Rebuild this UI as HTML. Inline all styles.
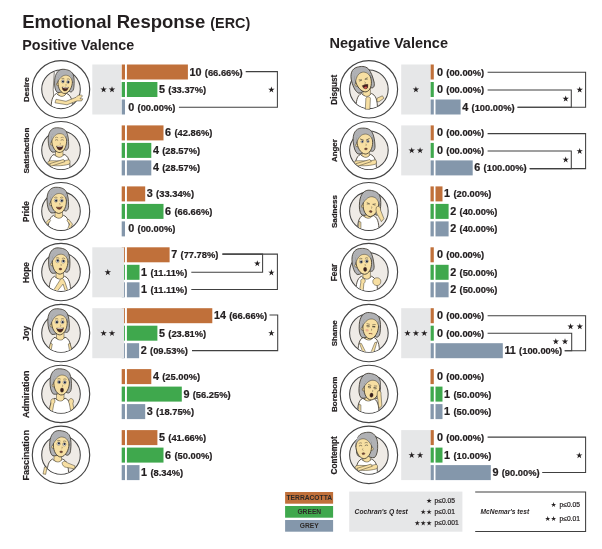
<!DOCTYPE html><html><head><meta charset="utf-8"><style>html,body{margin:0;padding:0;background:#fff}svg{display:block;filter:blur(0.3px)}svg text{font-family:"Liberation Sans",sans-serif}.b{stroke:#231f20;stroke-width:0.22px}</style></head><body><svg width="602" height="549" viewBox="0 0 602 549" font-family="Liberation Sans, sans-serif"><rect width="602" height="549" fill="#fff"/><text x="22.2" y="28.0" font-size="18.5" font-weight="bold" fill="#231f20">Emotional Response <tspan font-size="14.4">(ERC)</tspan></text><text x="22.2" y="50.1" font-size="14.3" font-weight="bold" fill="#231f20">Positive Valence</text><text x="329.5" y="47.8" font-size="14.5" font-weight="bold" fill="#231f20">Negative Valence</text><circle cx="61.00" cy="89.30" r="28.7" fill="#fff" stroke="#454545" stroke-width="1.15"/><circle cx="61.00" cy="89.30" r="19.3" fill="#efebe6" stroke="#454545" stroke-width="1.05"/><clipPath id="c1"><circle cx="0" cy="0" r="18.9"/></clipPath><g transform="translate(61.00,89.30)"><g clip-path="url(#c1)"><path d="M-6.6,-18.5 Q-9.2,0 -6.2,19 L0,19 L0,-18.5 Z" fill="#fff" stroke="#3d382e" stroke-width="0.6" stroke-linejoin="round" /><g transform="translate(3,0)"><path d="M-12.5,22 C-13.5,12 -11.5,6 -7.5,4.2 C-5,7.2 0,7.2 2.5,4.2 C6.5,5.6 9,10 8.5,22 Z" fill="#ffffff" stroke="#3d382e" stroke-width="0.85" stroke-linejoin="round" /><path d="M-6,-2 L-6,5 C-4,7.8 0,7.8 1.5,5 L1.5,-2 Z" fill="#f7dfa2" stroke="#3d382e" stroke-width="0.5" stroke-linejoin="round" /></g></g><g transform="translate(3,0)"><path d="M-8,10 L2,12 L12,8 C14,5.5 17,5 18.5,6.5 L16,9.5 L18.8,9.5 L17.6,11.6 L13,11.6 L3,15.5 L-9,13.5 Z" fill="#f7dfa2" stroke="#3d382e" stroke-width="0.5" stroke-linejoin="round" /></g><g transform="translate(4.0,-5.4) rotate(6) scale(0.874)"><path d="M-3,-16.5 C-9,-16.5 -12.5,-11 -12.2,-3 C-12,3 -11,8 -8,10.5 C-5,11 -2,9.5 -1,8 L6,8 C8,9.5 10.5,7.5 10.5,3 C10.5,-3 10,-8 8,-12 C5.5,-16 1,-16.5 -3,-16.5 Z" fill="#b0b1b4" stroke="#3d382e" stroke-width="0.85" stroke-linejoin="round" /><g transform="translate(0,0)"><circle cx="-8.1" cy="1.2" r="1.7" fill="#f7dfa2" stroke="#3d382e" stroke-width="0.5"/><path d="M-8.2,-3 C-8.4,3.5 -5.2,9.8 -0.3,11 C4.4,11.2 7.9,5.5 8.2,-1 C8.4,-5 7.2,-9 5,-11 L-5,-11 C-7.4,-9 -8.2,-5 -8.2,-3 Z" fill="#f7dfa2" stroke="#3d382e" stroke-width="0.85" stroke-linejoin="round" /><path d="M-8.8,-1 C-9.6,-9 -5,-14.5 0,-14.5 C5,-14.5 9,-9 8.6,-2 C7.4,-6.6 5,-9.8 1,-10 C-3,-10.2 -6,-7.5 -8.8,-1 Z" fill="#b0b1b4"/><path d="M-8.8,-1 C-6,-7.5 -3,-10.2 1,-10 C5,-9.8 7.4,-6.6 8.6,-2" fill="none" stroke="#3d382e" stroke-width="0.5"/><ellipse cx="-2.8" cy="-2.6" rx="1.7" ry="1.8" fill="#fff" stroke="#3d382e" stroke-width="0.4"/><circle cx="-2.5999999999999996" cy="-2.4" r="1.15" fill="#1f2638"/><ellipse cx="3.2" cy="-2.6" rx="1.7" ry="1.8" fill="#fff" stroke="#3d382e" stroke-width="0.4"/><circle cx="3.4000000000000004" cy="-2.4" r="1.15" fill="#1f2638"/><path d="M-4.6,-5.6 Q-2.8,-6.8 -1.2,-5.6 M1.6,-5.6 Q3.4,-6.8 5,-5.6" fill="none" stroke="#3d382e" stroke-width="0.5"/><path d="M1,0.2 q1.2,1.6 -0.2,2.2" fill="none" stroke="#3d382e" stroke-width="0.4"/><path d="M-3,3.8 Q0.6,4.8 4.4,3.4 Q3.6,8.2 0.6,8.2 Q-2.2,8 -3,3.8 Z" fill="#4a241c" stroke="#3d382e" stroke-width="0.45" stroke-linejoin="round" /><path d="M-2.2,4.2 Q0.7,5.1 3.7,3.9" stroke="#fff" stroke-width="0.7" fill="none"/></g></g></g><text class="b" transform="translate(29.3,89.7) rotate(-90)" text-anchor="middle" font-size="8.1" font-weight="bold" fill="#231f20">Desire</text><rect x="121.7" y="64.5" width="3.3" height="15" fill="#c0703a"/><rect x="126.9" y="64.5" width="61.0" height="15" fill="#c0703a"/><text class="b" x="189.5" y="75.5" font-size="10.8" font-weight="bold" fill="#231f20">10<tspan font-size="9.35" dx="3.3">(66.66%)</tspan></text><rect x="121.7" y="82.0" width="3.3" height="15" fill="#3fa84d"/><rect x="126.9" y="82.0" width="30.5" height="15" fill="#3fa84d"/><text class="b" x="159.0" y="93.0" font-size="10.8" font-weight="bold" fill="#231f20">5<tspan font-size="9.35" dx="3.3">(33.37%)</tspan></text><rect x="121.7" y="99.5" width="3.3" height="15" fill="#8497ab"/><text class="b" x="128.2" y="110.5" font-size="10.8" font-weight="bold" fill="#231f20">0<tspan font-size="9.35" dx="3.3">(00.00%)</tspan></text><path d="M245.7,71.6 H277.4 V107.3 H178.9" fill="none" stroke="#404040" stroke-width="1.05" stroke-linejoin="miter"/><polygon points="271.40,86.45 272.15,88.77 274.59,88.76 272.61,90.19 273.37,92.51 271.40,91.07 269.43,92.51 270.19,90.19 268.21,88.76 270.65,88.77" fill="#231f20"/><circle cx="61.00" cy="150.23" r="28.7" fill="#fff" stroke="#454545" stroke-width="1.15"/><circle cx="61.00" cy="150.23" r="19.3" fill="#efebe6" stroke="#454545" stroke-width="1.05"/><clipPath id="c2"><circle cx="0" cy="0" r="18.9"/></clipPath><g transform="translate(61.00,150.23)"><g clip-path="url(#c2)"><g transform="translate(0.5,0)"><path d="M-12.5,22 C-13.5,12 -11.5,6 -7.5,4.2 C-5,7.2 0,7.2 2.5,4.2 C6.5,5.6 9,10 8.5,22 Z" fill="#ffffff" stroke="#3d382e" stroke-width="0.85" stroke-linejoin="round" /><path d="M-6,-2 L-6,5 C-4,7.8 0,7.8 1.5,5 L1.5,-2 Z" fill="#f7dfa2" stroke="#3d382e" stroke-width="0.5" stroke-linejoin="round" /></g><g transform="translate(0.5,0)"><path d="M-13,11 C-9,9.5 -2,12 7.5,9.5 C9,10.5 9,13 7.5,14 C0,16 -8,16 -12.5,14.5 C-14,13.5 -14,12 -13,11 Z" fill="#f7dfa2" stroke="#3d382e" stroke-width="0.5" stroke-linejoin="round" /><path d="M-12,13.5 L2,9.2 L3.4,11.4 L-10.5,16 Z" fill="#f7dfa2" stroke="#3d382e" stroke-width="0.5" stroke-linejoin="round" /></g></g><g transform="translate(-1.8,-7.6) rotate(0) scale(0.9025)"><path d="M-3,-16.5 C-9,-16.5 -12.5,-11 -12.2,-3 C-12,3 -11,8 -8,10.5 C-5,11 -2,9.5 -1,8 L6,8 C8,9.5 10.5,7.5 10.5,3 C10.5,-3 10,-8 8,-12 C5.5,-16 1,-16.5 -3,-16.5 Z" fill="#b0b1b4" stroke="#3d382e" stroke-width="0.85" stroke-linejoin="round" /><g transform="translate(0,0)"><circle cx="-8.1" cy="1.2" r="1.7" fill="#f7dfa2" stroke="#3d382e" stroke-width="0.5"/><path d="M-8.2,-3 C-8.4,3.5 -5.2,9.8 -0.3,11 C4.4,11.2 7.9,5.5 8.2,-1 C8.4,-5 7.2,-9 5,-11 L-5,-11 C-7.4,-9 -8.2,-5 -8.2,-3 Z" fill="#f7dfa2" stroke="#3d382e" stroke-width="0.85" stroke-linejoin="round" /><path d="M-8.8,-1 C-9.6,-9 -5,-14.5 0,-14.5 C5,-14.5 9,-9 8.6,-2 C7.4,-6.6 5,-9.8 1,-10 C-3,-10.2 -6,-7.5 -8.8,-1 Z" fill="#b0b1b4"/><path d="M-8.8,-1 C-6,-7.5 -3,-10.2 1,-10 C5,-9.8 7.4,-6.6 8.6,-2" fill="none" stroke="#3d382e" stroke-width="0.5"/><path d="M-4.6,-2.6 Q-2.8,-4 -1.2,-2.6 M1.6,-2.6 Q3.4,-4 5,-2.6" fill="none" stroke="#3d382e" stroke-width="0.6"/><path d="M-4.6,-5.4 Q-2.8,-6.6 -1.2,-5.4 M1.6,-5.4 Q3.4,-6.6 5,-5.4" fill="none" stroke="#3d382e" stroke-width="0.45"/><path d="M1,0.2 q1.2,1.6 -0.2,2.2" fill="none" stroke="#3d382e" stroke-width="0.4"/><path d="M-3,3.8 Q0.6,4.8 4.4,3.4 Q3.6,8.2 0.6,8.2 Q-2.2,8 -3,3.8 Z" fill="#4a241c" stroke="#3d382e" stroke-width="0.45" stroke-linejoin="round" /><path d="M-2.2,4.2 Q0.7,5.1 3.7,3.9" stroke="#fff" stroke-width="0.7" fill="none"/></g></g></g><text class="b" transform="translate(29.3,150.6) rotate(-90)" text-anchor="middle" font-size="8.1" font-weight="bold" fill="#231f20">Satisfaction</text><rect x="121.7" y="125.4" width="3.3" height="15" fill="#c0703a"/><rect x="126.9" y="125.4" width="36.6" height="15" fill="#c0703a"/><text class="b" x="165.1" y="136.4" font-size="10.8" font-weight="bold" fill="#231f20">6<tspan font-size="9.35" dx="3.3">(42.86%)</tspan></text><rect x="121.7" y="142.9" width="3.3" height="15" fill="#3fa84d"/><rect x="126.9" y="142.9" width="24.4" height="15" fill="#3fa84d"/><text class="b" x="152.9" y="153.9" font-size="10.8" font-weight="bold" fill="#231f20">4<tspan font-size="9.35" dx="3.3">(28.57%)</tspan></text><rect x="121.7" y="160.4" width="3.3" height="15" fill="#8497ab"/><rect x="126.9" y="160.4" width="24.4" height="15" fill="#8497ab"/><text class="b" x="152.9" y="171.4" font-size="10.8" font-weight="bold" fill="#231f20">4<tspan font-size="9.35" dx="3.3">(28.57%)</tspan></text><circle cx="61.00" cy="211.16" r="28.7" fill="#fff" stroke="#454545" stroke-width="1.15"/><circle cx="61.00" cy="211.16" r="19.3" fill="#efebe6" stroke="#454545" stroke-width="1.05"/><clipPath id="c3"><circle cx="0" cy="0" r="18.9"/></clipPath><g transform="translate(61.00,211.16)"><g clip-path="url(#c3)"><g transform="translate(0,0)"><path d="M-12.5,22 C-13.5,12 -11.5,6 -7.5,4.2 C-5,7.2 0,7.2 2.5,4.2 C6.5,5.6 9,10 8.5,22 Z" fill="#ffffff" stroke="#3d382e" stroke-width="0.85" stroke-linejoin="round" /><path d="M-6,-2 L-6,5 C-4,7.8 0,7.8 1.5,5 L1.5,-2 Z" fill="#f7dfa2" stroke="#3d382e" stroke-width="0.5" stroke-linejoin="round" /></g><g transform="translate(0,0)"><path d="M-12,8 L-16.5,13 L-13,19 L-11,18 L-13.6,13 L-10.4,9.5 Z" fill="#f7dfa2" stroke="#3d382e" stroke-width="0.5" stroke-linejoin="round" /><path d="M7.5,8 L11.5,13 L8.5,19 L6.5,18 L8.6,13 L6,9.5 Z" fill="#f7dfa2" stroke="#3d382e" stroke-width="0.5" stroke-linejoin="round" /></g></g><g transform="translate(-2.4,-8.2) rotate(0) scale(0.95)"><path d="M-3,-16.5 C-9,-16.5 -12.5,-11 -12.2,-3 C-12,3 -11,8 -8,10.5 C-5,11 -2,9.5 -1,8 L6,8 C8,9.5 10.5,7.5 10.5,3 C10.5,-3 10,-8 8,-12 C5.5,-16 1,-16.5 -3,-16.5 Z" fill="#b0b1b4" stroke="#3d382e" stroke-width="0.85" stroke-linejoin="round" /><g transform="translate(0,0)"><circle cx="-8.1" cy="1.2" r="1.7" fill="#f7dfa2" stroke="#3d382e" stroke-width="0.5"/><path d="M-8.2,-3 C-8.4,3.5 -5.2,9.8 -0.3,11 C4.4,11.2 7.9,5.5 8.2,-1 C8.4,-5 7.2,-9 5,-11 L-5,-11 C-7.4,-9 -8.2,-5 -8.2,-3 Z" fill="#f7dfa2" stroke="#3d382e" stroke-width="0.85" stroke-linejoin="round" /><path d="M-8.8,-1 C-9.6,-9 -5,-14.5 0,-14.5 C5,-14.5 9,-9 8.6,-2 C7.4,-6.6 5,-9.8 1,-10 C-3,-10.2 -6,-7.5 -8.8,-1 Z" fill="#b0b1b4"/><path d="M-8.8,-1 C-6,-7.5 -3,-10.2 1,-10 C5,-9.8 7.4,-6.6 8.6,-2" fill="none" stroke="#3d382e" stroke-width="0.5"/><ellipse cx="-2.8" cy="-2.6" rx="1.7" ry="1.8" fill="#fff" stroke="#3d382e" stroke-width="0.4"/><circle cx="-2.5999999999999996" cy="-2.4" r="1.15" fill="#1f2638"/><ellipse cx="3.2" cy="-2.6" rx="1.7" ry="1.8" fill="#fff" stroke="#3d382e" stroke-width="0.4"/><circle cx="3.4000000000000004" cy="-2.4" r="1.15" fill="#1f2638"/><path d="M-4.6,-5.6 Q-2.8,-6.8 -1.2,-5.6 M1.6,-5.6 Q3.4,-6.8 5,-5.6" fill="none" stroke="#3d382e" stroke-width="0.5"/><path d="M1,0.2 q1.2,1.6 -0.2,2.2" fill="none" stroke="#3d382e" stroke-width="0.4"/><path d="M-2.6,4.2 Q0.6,5 4,3.6 Q3,6.8 0.6,6.8 Q-1.8,6.6 -2.6,4.2 Z" fill="#7a3d2c" stroke="#3d382e" stroke-width="0.4" stroke-linejoin="round" /></g></g></g><text class="b" transform="translate(29.3,211.6) rotate(-90)" text-anchor="middle" font-size="8.3" font-weight="bold" fill="#231f20">Pride</text><rect x="121.7" y="186.4" width="3.3" height="15" fill="#c0703a"/><rect x="126.9" y="186.4" width="18.3" height="15" fill="#c0703a"/><text class="b" x="146.8" y="197.4" font-size="10.8" font-weight="bold" fill="#231f20">3<tspan font-size="9.35" dx="3.3">(33.34%)</tspan></text><rect x="121.7" y="203.9" width="3.3" height="15" fill="#3fa84d"/><rect x="126.9" y="203.9" width="36.6" height="15" fill="#3fa84d"/><text class="b" x="165.1" y="214.9" font-size="10.8" font-weight="bold" fill="#231f20">6<tspan font-size="9.35" dx="3.3">(66.66%)</tspan></text><rect x="121.7" y="221.4" width="3.3" height="15" fill="#8497ab"/><text class="b" x="128.2" y="232.4" font-size="10.8" font-weight="bold" fill="#231f20">0<tspan font-size="9.35" dx="3.3">(00.00%)</tspan></text><circle cx="61.00" cy="272.09" r="28.7" fill="#fff" stroke="#454545" stroke-width="1.15"/><circle cx="61.00" cy="272.09" r="19.3" fill="#efebe6" stroke="#454545" stroke-width="1.05"/><clipPath id="c4"><circle cx="0" cy="0" r="18.9"/></clipPath><g transform="translate(61.00,272.09)"><g clip-path="url(#c4)"><g transform="translate(1,0)"><path d="M-12.5,22 C-13.5,12 -11.5,6 -7.5,4.2 C-5,7.2 0,7.2 2.5,4.2 C6.5,5.6 9,10 8.5,22 Z" fill="#ffffff" stroke="#3d382e" stroke-width="0.85" stroke-linejoin="round" /><path d="M-6,-2 L-6,5 C-4,7.8 0,7.8 1.5,5 L1.5,-2 Z" fill="#f7dfa2" stroke="#3d382e" stroke-width="0.5" stroke-linejoin="round" /></g><g transform="translate(1,0)"><path d="M-9,19 L-2,8 C-1,6 1.5,6 1.8,8 L3,10 L6,19 L3.5,19.5 L1,12 L-5.5,20 Z" fill="#f7dfa2" stroke="#3d382e" stroke-width="0.5" stroke-linejoin="round" /></g></g><g transform="translate(-1.0,-8.4) rotate(4) scale(0.95)"><path d="M-3,-16.5 C-9,-16.5 -12.5,-11 -12.2,-3 C-12,3 -11,8 -8,10.5 C-5,11 -2,9.5 -1,8 L6,8 C8,9.5 10.5,7.5 10.5,3 C10.5,-3 10,-8 8,-12 C5.5,-16 1,-16.5 -3,-16.5 Z" fill="#b0b1b4" stroke="#3d382e" stroke-width="0.85" stroke-linejoin="round" /><g transform="translate(0,0)"><circle cx="-8.1" cy="1.2" r="1.7" fill="#f7dfa2" stroke="#3d382e" stroke-width="0.5"/><path d="M-8.2,-3 C-8.4,3.5 -5.2,9.8 -0.3,11 C4.4,11.2 7.9,5.5 8.2,-1 C8.4,-5 7.2,-9 5,-11 L-5,-11 C-7.4,-9 -8.2,-5 -8.2,-3 Z" fill="#f7dfa2" stroke="#3d382e" stroke-width="0.85" stroke-linejoin="round" /><path d="M-8.8,-1 C-9.6,-9 -5,-14.5 0,-14.5 C5,-14.5 9,-9 8.6,-2 C7.4,-6.6 5,-9.8 1,-10 C-3,-10.2 -6,-7.5 -8.8,-1 Z" fill="#b0b1b4"/><path d="M-8.8,-1 C-6,-7.5 -3,-10.2 1,-10 C5,-9.8 7.4,-6.6 8.6,-2" fill="none" stroke="#3d382e" stroke-width="0.5"/><ellipse cx="-2.8" cy="-2.6" rx="1.7" ry="1.8" fill="#fff" stroke="#3d382e" stroke-width="0.4"/><circle cx="-2.5999999999999996" cy="-3.0" r="1.15" fill="#1f2638"/><ellipse cx="3.2" cy="-2.6" rx="1.7" ry="1.8" fill="#fff" stroke="#3d382e" stroke-width="0.4"/><circle cx="3.4000000000000004" cy="-3.0" r="1.15" fill="#1f2638"/><path d="M-4.6,-5.6 Q-2.8,-6.8 -1.2,-5.6 M1.6,-5.6 Q3.4,-6.8 5,-5.6" fill="none" stroke="#3d382e" stroke-width="0.5"/><path d="M1,0.2 q1.2,1.6 -0.2,2.2" fill="none" stroke="#3d382e" stroke-width="0.4"/><ellipse cx="0.8" cy="5.6" rx="1.5" ry="1.0" fill="#7a3d2c" stroke="#3d382e" stroke-width="0.4"/></g></g></g><text class="b" transform="translate(29.3,272.5) rotate(-90)" text-anchor="middle" font-size="8.3" font-weight="bold" fill="#231f20">Hope</text><rect x="121.7" y="247.3" width="3.3" height="15" fill="#c0703a"/><rect x="126.9" y="247.3" width="42.7" height="15" fill="#c0703a"/><text class="b" x="171.2" y="258.3" font-size="10.8" font-weight="bold" fill="#231f20">7<tspan font-size="9.35" dx="3.3">(77.78%)</tspan></text><rect x="121.7" y="264.8" width="3.3" height="15" fill="#3fa84d"/><rect x="126.9" y="264.8" width="12.6" height="15" fill="#3fa84d"/><text class="b" x="141.1" y="275.8" font-size="10.8" font-weight="bold" fill="#231f20">1<tspan font-size="9.35" dx="3.3">(11.11%)</tspan></text><rect x="121.7" y="282.3" width="3.3" height="15" fill="#8497ab"/><rect x="126.9" y="282.3" width="12.6" height="15" fill="#8497ab"/><text class="b" x="141.1" y="293.3" font-size="10.8" font-weight="bold" fill="#231f20">1<tspan font-size="9.35" dx="3.3">(11.11%)</tspan></text><path d="M222.4,254.1 H262.6 V272.3 H191.3" fill="none" stroke="#404040" stroke-width="1.05" stroke-linejoin="miter"/><polygon points="257.30,260.24 258.05,262.56 260.49,262.55 258.51,263.98 259.27,266.30 257.30,264.86 255.33,266.30 256.09,263.98 254.11,262.55 256.55,262.56" fill="#231f20"/><path d="M222.4,254.1 H277.4 V289.5 H191.3" fill="none" stroke="#404040" stroke-width="1.05" stroke-linejoin="miter"/><polygon points="271.40,269.34 272.15,271.66 274.59,271.65 272.61,273.08 273.37,275.40 271.40,273.96 269.43,275.40 270.19,273.08 268.21,271.65 270.65,271.66" fill="#231f20"/><circle cx="61.00" cy="333.02" r="28.7" fill="#fff" stroke="#454545" stroke-width="1.15"/><circle cx="61.00" cy="333.02" r="19.3" fill="#efebe6" stroke="#454545" stroke-width="1.05"/><clipPath id="c5"><circle cx="0" cy="0" r="18.9"/></clipPath><g transform="translate(61.00,333.02)"><g clip-path="url(#c5)"><g transform="translate(1.5,0)"><path d="M-12.5,22 C-13.5,12 -11.5,6 -7.5,4.2 C-5,7.2 0,7.2 2.5,4.2 C6.5,5.6 9,10 8.5,22 Z" fill="#ffffff" stroke="#3d382e" stroke-width="0.85" stroke-linejoin="round" /><path d="M-6,-2 L-6,5 C-4,7.8 0,7.8 1.5,5 L1.5,-2 Z" fill="#f7dfa2" stroke="#3d382e" stroke-width="0.5" stroke-linejoin="round" /></g><g transform="translate(1.5,0)"><path d="M-12,10 L-14.5,19 L-11.8,19.5 L-10.2,11 Z" fill="#f7dfa2" stroke="#3d382e" stroke-width="0.5" stroke-linejoin="round" /><path d="M7.4,10 L10,19 L7.4,19.5 L5.8,11 Z" fill="#f7dfa2" stroke="#3d382e" stroke-width="0.5" stroke-linejoin="round" /></g></g><g transform="translate(-1.6,-8.6) rotate(0) scale(0.95)"><path d="M-3,-16.5 C-9,-16.5 -12.5,-11 -12.2,-3 C-12,3 -11,8 -8,10.5 C-5,11 -2,9.5 -1,8 L6,8 C8,9.5 10.5,7.5 10.5,3 C10.5,-3 10,-8 8,-12 C5.5,-16 1,-16.5 -3,-16.5 Z" fill="#b0b1b4" stroke="#3d382e" stroke-width="0.85" stroke-linejoin="round" /><g transform="translate(0,0)"><circle cx="-8.1" cy="1.2" r="1.7" fill="#f7dfa2" stroke="#3d382e" stroke-width="0.5"/><path d="M-8.2,-3 C-8.4,3.5 -5.2,9.8 -0.3,11 C4.4,11.2 7.9,5.5 8.2,-1 C8.4,-5 7.2,-9 5,-11 L-5,-11 C-7.4,-9 -8.2,-5 -8.2,-3 Z" fill="#f7dfa2" stroke="#3d382e" stroke-width="0.85" stroke-linejoin="round" /><path d="M-8.8,-1 C-9.6,-9 -5,-14.5 0,-14.5 C5,-14.5 9,-9 8.6,-2 C7.4,-6.6 5,-9.8 1,-10 C-3,-10.2 -6,-7.5 -8.8,-1 Z" fill="#b0b1b4"/><path d="M-8.8,-1 C-6,-7.5 -3,-10.2 1,-10 C5,-9.8 7.4,-6.6 8.6,-2" fill="none" stroke="#3d382e" stroke-width="0.5"/><ellipse cx="-2.8" cy="-2.6" rx="1.7" ry="1.8" fill="#fff" stroke="#3d382e" stroke-width="0.4"/><circle cx="-2.5999999999999996" cy="-2.4" r="1.15" fill="#1f2638"/><ellipse cx="3.2" cy="-2.6" rx="1.7" ry="1.8" fill="#fff" stroke="#3d382e" stroke-width="0.4"/><circle cx="3.4000000000000004" cy="-2.4" r="1.15" fill="#1f2638"/><path d="M-4.6,-5.6 Q-2.8,-6.8 -1.2,-5.6 M1.6,-5.6 Q3.4,-6.8 5,-5.6" fill="none" stroke="#3d382e" stroke-width="0.5"/><path d="M1,0.2 q1.2,1.6 -0.2,2.2" fill="none" stroke="#3d382e" stroke-width="0.4"/><path d="M-3,3.8 Q0.6,4.8 4.4,3.4 Q3.6,8.2 0.6,8.2 Q-2.2,8 -3,3.8 Z" fill="#4a241c" stroke="#3d382e" stroke-width="0.45" stroke-linejoin="round" /><path d="M-2.2,4.2 Q0.7,5.1 3.7,3.9" stroke="#fff" stroke-width="0.7" fill="none"/></g></g></g><text class="b" transform="translate(29.3,333.4) rotate(-90)" text-anchor="middle" font-size="8.8" font-weight="bold" fill="#231f20">Joy</text><rect x="121.7" y="308.2" width="3.3" height="15" fill="#c0703a"/><rect x="126.9" y="308.2" width="85.4" height="15" fill="#c0703a"/><text class="b" x="213.9" y="319.2" font-size="10.8" font-weight="bold" fill="#231f20">14<tspan font-size="9.35" dx="3.3">(66.66%)</tspan></text><rect x="121.7" y="325.7" width="3.3" height="15" fill="#3fa84d"/><rect x="126.9" y="325.7" width="30.5" height="15" fill="#3fa84d"/><text class="b" x="159.0" y="336.7" font-size="10.8" font-weight="bold" fill="#231f20">5<tspan font-size="9.35" dx="3.3">(23.81%)</tspan></text><rect x="121.7" y="343.2" width="3.3" height="15" fill="#8497ab"/><rect x="126.9" y="343.2" width="12.2" height="15" fill="#8497ab"/><text class="b" x="140.7" y="354.2" font-size="10.8" font-weight="bold" fill="#231f20">2<tspan font-size="9.35" dx="3.3">(09.53%)</tspan></text><path d="M269.5,315.0 H277.7 V350.6 H192.0" fill="none" stroke="#404040" stroke-width="1.05" stroke-linejoin="miter"/><polygon points="271.40,329.87 272.15,332.19 274.59,332.18 272.61,333.61 273.37,335.93 271.40,334.49 269.43,335.93 270.19,333.61 268.21,332.18 270.65,332.19" fill="#231f20"/><circle cx="61.00" cy="393.95" r="28.7" fill="#fff" stroke="#454545" stroke-width="1.15"/><circle cx="61.00" cy="393.95" r="19.3" fill="#efebe6" stroke="#454545" stroke-width="1.05"/><clipPath id="c6"><circle cx="0" cy="0" r="18.9"/></clipPath><g transform="translate(61.00,393.95)"><g clip-path="url(#c6)"><g transform="translate(1.5,0)"><path d="M-12.5,22 C-13.5,12 -11.5,6 -7.5,4.2 C-5,7.2 0,7.2 2.5,4.2 C6.5,5.6 9,10 8.5,22 Z" fill="#ffffff" stroke="#3d382e" stroke-width="0.85" stroke-linejoin="round" /><path d="M-6,-2 L-6,5 C-4,7.8 0,7.8 1.5,5 L1.5,-2 Z" fill="#f7dfa2" stroke="#3d382e" stroke-width="0.5" stroke-linejoin="round" /></g><g transform="translate(1.5,0)"><path d="M-14,19 L-11.5,9 C-12.5,6.5 -10.5,4 -8.5,5 C-7,6 -7.4,8.5 -8.6,9.6 L-10.4,19.5 Z" fill="#f7dfa2" stroke="#3d382e" stroke-width="0.5" stroke-linejoin="round" /><path d="M8.5,19 L6.8,9.6 C5.4,7.6 6.5,4.4 8.8,4.6 C11,5 11.6,7.6 10.4,9.4 L11.8,18.5 Z" fill="#f7dfa2" stroke="#3d382e" stroke-width="0.5" stroke-linejoin="round" /></g></g><g transform="translate(0.5,-9.4) rotate(3) scale(0.95)"><path d="M-3,-16.5 C-9,-16.5 -12.5,-11 -12.2,-3 C-12,3 -11,8 -8,10.5 C-5,11 -2,9.5 -1,8 L6,8 C8,9.5 10.5,7.5 10.5,3 C10.5,-3 10,-8 8,-12 C5.5,-16 1,-16.5 -3,-16.5 Z" fill="#b0b1b4" stroke="#3d382e" stroke-width="0.85" stroke-linejoin="round" /><g transform="translate(0,0)"><circle cx="-8.1" cy="1.2" r="1.7" fill="#f7dfa2" stroke="#3d382e" stroke-width="0.5"/><path d="M-8.2,-3 C-8.4,3.5 -5.2,9.8 -0.3,11 C4.4,11.2 7.9,5.5 8.2,-1 C8.4,-5 7.2,-9 5,-11 L-5,-11 C-7.4,-9 -8.2,-5 -8.2,-3 Z" fill="#f7dfa2" stroke="#3d382e" stroke-width="0.85" stroke-linejoin="round" /><path d="M-8.8,-1 C-9.6,-9 -5,-14.5 0,-14.5 C5,-14.5 9,-9 8.6,-2 C7.4,-6.6 5,-9.8 1,-10 C-3,-10.2 -6,-7.5 -8.8,-1 Z" fill="#b0b1b4"/><path d="M-8.8,-1 C-6,-7.5 -3,-10.2 1,-10 C5,-9.8 7.4,-6.6 8.6,-2" fill="none" stroke="#3d382e" stroke-width="0.5"/><ellipse cx="-2.8" cy="-2.6" rx="1.7" ry="1.8" fill="#fff" stroke="#3d382e" stroke-width="0.4"/><circle cx="-2.5999999999999996" cy="-2.4" r="1.15" fill="#1f2638"/><ellipse cx="3.2" cy="-2.6" rx="1.7" ry="1.8" fill="#fff" stroke="#3d382e" stroke-width="0.4"/><circle cx="3.4000000000000004" cy="-2.4" r="1.15" fill="#1f2638"/><path d="M-4.6,-5.6 Q-2.8,-6.8 -1.2,-5.6 M1.6,-5.6 Q3.4,-6.8 5,-5.6" fill="none" stroke="#3d382e" stroke-width="0.5"/><path d="M1,0.2 q1.2,1.6 -0.2,2.2" fill="none" stroke="#3d382e" stroke-width="0.4"/><ellipse cx="0.8" cy="5.8" rx="1.7" ry="2.2" fill="#3a1d1a" stroke="#3d382e" stroke-width="0.4"/></g></g></g><text class="b" transform="translate(29.3,394.3) rotate(-90)" text-anchor="middle" font-size="9.0" font-weight="bold" fill="#231f20">Admiration</text><rect x="121.7" y="369.1" width="3.3" height="15" fill="#c0703a"/><rect x="126.9" y="369.1" width="24.4" height="15" fill="#c0703a"/><text class="b" x="152.9" y="380.1" font-size="10.8" font-weight="bold" fill="#231f20">4<tspan font-size="9.35" dx="3.3">(25.00%)</tspan></text><rect x="121.7" y="386.6" width="3.3" height="15" fill="#3fa84d"/><rect x="126.9" y="386.6" width="54.9" height="15" fill="#3fa84d"/><text class="b" x="183.4" y="397.6" font-size="10.8" font-weight="bold" fill="#231f20">9<tspan font-size="9.35" dx="3.3">(56.25%)</tspan></text><rect x="121.7" y="404.1" width="3.3" height="15" fill="#8497ab"/><rect x="126.9" y="404.1" width="18.3" height="15" fill="#8497ab"/><text class="b" x="146.8" y="415.1" font-size="10.8" font-weight="bold" fill="#231f20">3<tspan font-size="9.35" dx="3.3">(18.75%)</tspan></text><circle cx="61.00" cy="454.88" r="28.7" fill="#fff" stroke="#454545" stroke-width="1.15"/><circle cx="61.00" cy="454.88" r="19.3" fill="#efebe6" stroke="#454545" stroke-width="1.05"/><clipPath id="c7"><circle cx="0" cy="0" r="18.9"/></clipPath><g transform="translate(61.00,454.88)"><g clip-path="url(#c7)"><g transform="translate(-1,0)"><path d="M-12.5,22 C-13.5,12 -11.5,6 -7.5,4.2 C-5,7.2 0,7.2 2.5,4.2 C6.5,5.6 9,10 8.5,22 Z" fill="#ffffff" stroke="#3d382e" stroke-width="0.85" stroke-linejoin="round" /><path d="M-6,-2 L-6,5 C-4,7.8 0,7.8 1.5,5 L1.5,-2 Z" fill="#f7dfa2" stroke="#3d382e" stroke-width="0.5" stroke-linejoin="round" /></g></g><g transform="translate(-1,0)"><path d="M-15.5,12 L-17,19 L-14.3,19.5 L-13,12.5 Z" fill="#f7dfa2" stroke="#3d382e" stroke-width="0.5" stroke-linejoin="round" /><path d="M2,8 C3,6 6,6 7.5,8 L15,11 L14.5,14 L6.5,12.5 C4,12.5 2.4,10.5 2,8 Z" fill="#f7dfa2" stroke="#3d382e" stroke-width="0.5" stroke-linejoin="round" /></g><g transform="translate(0.0,-8.4) rotate(6) scale(0.95)"><path d="M-3,-16.5 C-9,-16.5 -12.5,-11 -12.2,-3 C-12,3 -11,8 -8,10.5 C-5,11 -2,9.5 -1,8 L6,8 C8,9.5 10.5,7.5 10.5,3 C10.5,-3 10,-8 8,-12 C5.5,-16 1,-16.5 -3,-16.5 Z" fill="#b0b1b4" stroke="#3d382e" stroke-width="0.85" stroke-linejoin="round" /><g transform="translate(0,0)"><circle cx="-8.1" cy="1.2" r="1.7" fill="#f7dfa2" stroke="#3d382e" stroke-width="0.5"/><path d="M-8.2,-3 C-8.4,3.5 -5.2,9.8 -0.3,11 C4.4,11.2 7.9,5.5 8.2,-1 C8.4,-5 7.2,-9 5,-11 L-5,-11 C-7.4,-9 -8.2,-5 -8.2,-3 Z" fill="#f7dfa2" stroke="#3d382e" stroke-width="0.85" stroke-linejoin="round" /><path d="M-8.8,-1 C-9.6,-9 -5,-14.5 0,-14.5 C5,-14.5 9,-9 8.6,-2 C7.4,-6.6 5,-9.8 1,-10 C-3,-10.2 -6,-7.5 -8.8,-1 Z" fill="#b0b1b4"/><path d="M-8.8,-1 C-6,-7.5 -3,-10.2 1,-10 C5,-9.8 7.4,-6.6 8.6,-2" fill="none" stroke="#3d382e" stroke-width="0.5"/><ellipse cx="-2.8" cy="-2.6" rx="1.7" ry="1.8" fill="#fff" stroke="#3d382e" stroke-width="0.4"/><circle cx="-2.5999999999999996" cy="-3.0" r="1.15" fill="#1f2638"/><ellipse cx="3.2" cy="-2.6" rx="1.7" ry="1.8" fill="#fff" stroke="#3d382e" stroke-width="0.4"/><circle cx="3.4000000000000004" cy="-3.0" r="1.15" fill="#1f2638"/><path d="M-4.6,-5.6 Q-2.8,-6.8 -1.2,-5.6 M1.6,-5.6 Q3.4,-6.8 5,-5.6" fill="none" stroke="#3d382e" stroke-width="0.5"/><path d="M1,0.2 q1.2,1.6 -0.2,2.2" fill="none" stroke="#3d382e" stroke-width="0.4"/><ellipse cx="0.8" cy="5.6" rx="1.5" ry="1.0" fill="#7a3d2c" stroke="#3d382e" stroke-width="0.4"/></g></g></g><text class="b" transform="translate(29.3,455.3) rotate(-90)" text-anchor="middle" font-size="9.1" font-weight="bold" fill="#231f20">Fascination</text><rect x="121.7" y="430.1" width="3.3" height="15" fill="#c0703a"/><rect x="126.9" y="430.1" width="30.5" height="15" fill="#c0703a"/><text class="b" x="159.0" y="441.1" font-size="10.8" font-weight="bold" fill="#231f20">5<tspan font-size="9.35" dx="3.3">(41.66%)</tspan></text><rect x="121.7" y="447.6" width="3.3" height="15" fill="#3fa84d"/><rect x="126.9" y="447.6" width="36.6" height="15" fill="#3fa84d"/><text class="b" x="165.1" y="458.6" font-size="10.8" font-weight="bold" fill="#231f20">6<tspan font-size="9.35" dx="3.3">(50.00%)</tspan></text><rect x="121.7" y="465.1" width="3.3" height="15" fill="#8497ab"/><rect x="126.9" y="465.1" width="12.6" height="15" fill="#8497ab"/><text class="b" x="141.1" y="476.1" font-size="10.8" font-weight="bold" fill="#231f20">1<tspan font-size="9.35" dx="3.3">(8.34%)</tspan></text><rect x="92.3" y="64.5" width="28.8" height="50" fill="#e6e7e8"/><polygon points="103.60,86.20 104.36,88.55 106.83,88.55 104.83,90.00 105.60,92.35 103.60,90.89 101.60,92.35 102.37,90.00 100.37,88.55 102.84,88.55" fill="#231f20"/><polygon points="112.00,86.20 112.76,88.55 115.23,88.55 113.23,90.00 114.00,92.35 112.00,90.89 110.00,92.35 110.77,90.00 108.77,88.55 111.24,88.55" fill="#231f20"/><rect x="92.3" y="247.3" width="31.8" height="50" fill="#e6e7e8"/><polygon points="107.80,268.99 108.56,271.34 111.03,271.34 109.03,272.79 109.80,275.14 107.80,273.68 105.80,275.14 106.57,272.79 104.57,271.34 107.04,271.34" fill="#231f20"/><rect x="92.3" y="308.2" width="31.8" height="50" fill="#e6e7e8"/><polygon points="103.60,329.92 104.36,332.27 106.83,332.27 104.83,333.72 105.60,336.07 103.60,334.61 101.60,336.07 102.37,333.72 100.37,332.27 102.84,332.27" fill="#231f20"/><polygon points="112.00,329.92 112.76,332.27 115.23,332.27 113.23,333.72 114.00,336.07 112.00,334.61 110.00,336.07 110.77,333.72 108.77,332.27 111.24,332.27" fill="#231f20"/><circle cx="368.90" cy="89.30" r="28.7" fill="#fff" stroke="#454545" stroke-width="1.15"/><circle cx="368.90" cy="89.30" r="19.3" fill="#efebe6" stroke="#454545" stroke-width="1.05"/><clipPath id="c8"><circle cx="0" cy="0" r="18.9"/></clipPath><g transform="translate(368.90,89.30)"><g clip-path="url(#c8)"><g transform="translate(0,0)"><path d="M-12.5,22 C-13.5,12 -11.5,6 -7.5,4.2 C-5,7.2 0,7.2 2.5,4.2 C6.5,5.6 9,10 8.5,22 Z" fill="#ffffff" stroke="#3d382e" stroke-width="0.85" stroke-linejoin="round" /><path d="M-6,-2 L-6,5 C-4,7.8 0,7.8 1.5,5 L1.5,-2 Z" fill="#f7dfa2" stroke="#3d382e" stroke-width="0.5" stroke-linejoin="round" /></g></g><g transform="translate(0,0)"><path d="M-3,9 C-2,7 1,7 1.5,9 L1,20 L-3.6,20 Z" fill="#f7dfa2" stroke="#3d382e" stroke-width="0.5" stroke-linejoin="round" /><path d="M8,9 L13.5,6.5 L15,9 L10,12.5 L8,12 Z" fill="#f7dfa2" stroke="#3d382e" stroke-width="0.5" stroke-linejoin="round" /></g><g transform="translate(-5.2,-7.6) rotate(-14) scale(0.95)"><path d="M-3,-16.5 C-9,-16.5 -12.5,-11 -12.2,-3 C-12,3 -11,8 -8,10.5 C-5,11 -2,9.5 -1,8 L6,8 C8,9.5 10.5,7.5 10.5,3 C10.5,-3 10,-8 8,-12 C5.5,-16 1,-16.5 -3,-16.5 Z" fill="#b0b1b4" stroke="#3d382e" stroke-width="0.85" stroke-linejoin="round" /><g transform="translate(0,0)"><circle cx="-8.1" cy="1.2" r="1.7" fill="#f7dfa2" stroke="#3d382e" stroke-width="0.5"/><path d="M-8.2,-3 C-8.4,3.5 -5.2,9.8 -0.3,11 C4.4,11.2 7.9,5.5 8.2,-1 C8.4,-5 7.2,-9 5,-11 L-5,-11 C-7.4,-9 -8.2,-5 -8.2,-3 Z" fill="#f7dfa2" stroke="#3d382e" stroke-width="0.85" stroke-linejoin="round" /><path d="M-8.8,-1 C-9.6,-9 -5,-14.5 0,-14.5 C5,-14.5 9,-9 8.6,-2 C7.4,-6.6 5,-9.8 1,-10 C-3,-10.2 -6,-7.5 -8.8,-1 Z" fill="#b0b1b4"/><path d="M-8.8,-1 C-6,-7.5 -3,-10.2 1,-10 C5,-9.8 7.4,-6.6 8.6,-2" fill="none" stroke="#3d382e" stroke-width="0.5"/><path d="M-4.6,-3.2 L-1.4,-2.2 L-4.4,-1.6 M5,-3.2 L1.8,-2.2 L4.8,-1.6" fill="none" stroke="#3d382e" stroke-width="0.55"/><path d="M1,0.2 q1.2,1.6 -0.2,2.2" fill="none" stroke="#3d382e" stroke-width="0.4"/><path d="M-2.6,3.8 Q0.6,3 3.6,3.8 Q3.2,8 0.4,8 Q-2.2,7.6 -2.6,3.8 Z" fill="#4a1f1c" stroke="#3d382e" stroke-width="0.4" stroke-linejoin="round" /><ellipse cx="0.4" cy="6.6" rx="1.5" ry="1.1" fill="#d8574f"/></g></g></g><text class="b" transform="translate(337.0,89.7) rotate(-90)" text-anchor="middle" font-size="8.2" font-weight="bold" fill="#231f20">Disgust</text><rect x="430.5" y="64.5" width="3.3" height="15" fill="#c0703a"/><text class="b" x="437.0" y="75.5" font-size="10.8" font-weight="bold" fill="#231f20">0<tspan font-size="9.35" dx="3.3">(00.00%)</tspan></text><rect x="430.5" y="82.0" width="3.3" height="15" fill="#3fa84d"/><text class="b" x="437.0" y="93.0" font-size="10.8" font-weight="bold" fill="#231f20">0<tspan font-size="9.35" dx="3.3">(00.00%)</tspan></text><rect x="430.5" y="99.5" width="3.3" height="15" fill="#8497ab"/><rect x="435.5" y="99.5" width="25.1" height="15" fill="#8497ab"/><text class="b" x="462.2" y="110.5" font-size="10.8" font-weight="bold" fill="#231f20">4<tspan font-size="9.35" dx="3.3">(100.00%)</tspan></text><path d="M487.6,72.3 H585.6 V107.2 H517.5" fill="none" stroke="#404040" stroke-width="1.05" stroke-linejoin="miter"/><polygon points="579.70,86.55 580.45,88.87 582.89,88.86 580.91,90.29 581.67,92.61 579.70,91.17 577.73,92.61 578.49,90.29 576.51,88.86 578.95,88.87" fill="#231f20"/><path d="M487.6,89.9 H571.3 V107.2 H517.5" fill="none" stroke="#404040" stroke-width="1.05" stroke-linejoin="miter"/><polygon points="565.70,95.55 566.45,97.87 568.89,97.86 566.91,99.29 567.67,101.61 565.70,100.17 563.73,101.61 564.49,99.29 562.51,97.86 564.95,97.87" fill="#231f20"/><circle cx="368.90" cy="150.23" r="28.7" fill="#fff" stroke="#454545" stroke-width="1.15"/><circle cx="368.90" cy="150.23" r="19.3" fill="#efebe6" stroke="#454545" stroke-width="1.05"/><clipPath id="c9"><circle cx="0" cy="0" r="18.9"/></clipPath><g transform="translate(368.90,150.23)"><g clip-path="url(#c9)"><g transform="translate(-1,0)"><path d="M-12.5,22 C-13.5,12 -11.5,6 -7.5,4.2 C-5,7.2 0,7.2 2.5,4.2 C6.5,5.6 9,10 8.5,22 Z" fill="#ffffff" stroke="#3d382e" stroke-width="0.85" stroke-linejoin="round" /><path d="M-6,-2 L-6,5 C-4,7.8 0,7.8 1.5,5 L1.5,-2 Z" fill="#f7dfa2" stroke="#3d382e" stroke-width="0.5" stroke-linejoin="round" /></g><g transform="translate(-1,0)"><path d="M-13,11 C-9,9.5 -2,12 7.5,9.5 C9,10.5 9,13 7.5,14 C0,16 -8,16 -12.5,14.5 C-14,13.5 -14,12 -13,11 Z" fill="#f7dfa2" stroke="#3d382e" stroke-width="0.5" stroke-linejoin="round" /><path d="M-12,13.5 L2,9.2 L3.4,11.4 L-10.5,16 Z" fill="#f7dfa2" stroke="#3d382e" stroke-width="0.5" stroke-linejoin="round" /></g></g><g transform="translate(-4.0,-6.6) rotate(-3) scale(0.95)"><path d="M-3,-16.5 C-9,-16.5 -12.5,-11 -12.2,-3 C-12,3 -11,8 -8,10.5 C-5,11 -2,9.5 -1,8 L6,8 C8,9.5 10.5,7.5 10.5,3 C10.5,-3 10,-8 8,-12 C5.5,-16 1,-16.5 -3,-16.5 Z" fill="#b0b1b4" stroke="#3d382e" stroke-width="0.85" stroke-linejoin="round" /><g transform="translate(0,0)"><circle cx="-8.1" cy="1.2" r="1.7" fill="#f7dfa2" stroke="#3d382e" stroke-width="0.5"/><path d="M-8.2,-3 C-8.4,3.5 -5.2,9.8 -0.3,11 C4.4,11.2 7.9,5.5 8.2,-1 C8.4,-5 7.2,-9 5,-11 L-5,-11 C-7.4,-9 -8.2,-5 -8.2,-3 Z" fill="#f7dfa2" stroke="#3d382e" stroke-width="0.85" stroke-linejoin="round" /><path d="M-8.8,-1 C-9.6,-9 -5,-14.5 0,-14.5 C5,-14.5 9,-9 8.6,-2 C7.4,-6.6 5,-9.8 1,-10 C-3,-10.2 -6,-7.5 -8.8,-1 Z" fill="#b0b1b4"/><path d="M-8.8,-1 C-6,-7.5 -3,-10.2 1,-10 C5,-9.8 7.4,-6.6 8.6,-2" fill="none" stroke="#3d382e" stroke-width="0.5"/><ellipse cx="-2.8" cy="-2.2" rx="1.5" ry="1.2" fill="#fff" stroke="#3d382e" stroke-width="0.35"/><circle cx="-2.5999999999999996" cy="-2.2" r="0.9" fill="#2b3550"/><ellipse cx="3.2" cy="-2.2" rx="1.5" ry="1.2" fill="#fff" stroke="#3d382e" stroke-width="0.35"/><circle cx="3.4000000000000004" cy="-2.2" r="0.9" fill="#2b3550"/><path d="M-4.8,-5.2 L-1,-3.6 M1.4,-3.6 L5.2,-5.2" fill="none" stroke="#3d382e" stroke-width="0.7"/><path d="M1,0.2 q1.2,1.6 -0.2,2.2" fill="none" stroke="#3d382e" stroke-width="0.4"/><ellipse cx="0.8" cy="5.6" rx="1.5" ry="1.0" fill="#7a3d2c" stroke="#3d382e" stroke-width="0.4"/></g></g></g><text class="b" transform="translate(337.0,150.6) rotate(-90)" text-anchor="middle" font-size="7.9" font-weight="bold" fill="#231f20">Anger</text><rect x="430.5" y="125.4" width="3.3" height="15" fill="#c0703a"/><text class="b" x="437.0" y="136.4" font-size="10.8" font-weight="bold" fill="#231f20">0<tspan font-size="9.35" dx="3.3">(00.00%)</tspan></text><rect x="430.5" y="142.9" width="3.3" height="15" fill="#3fa84d"/><text class="b" x="437.0" y="153.9" font-size="10.8" font-weight="bold" fill="#231f20">0<tspan font-size="9.35" dx="3.3">(00.00%)</tspan></text><rect x="430.5" y="160.4" width="3.3" height="15" fill="#8497ab"/><rect x="435.5" y="160.4" width="37.2" height="15" fill="#8497ab"/><text class="b" x="474.3" y="171.4" font-size="10.8" font-weight="bold" fill="#231f20">6<tspan font-size="9.35" dx="3.3">(100.00%)</tspan></text><path d="M487.6,133.6 H585.6 V168.6 H529.7" fill="none" stroke="#404040" stroke-width="1.05" stroke-linejoin="miter"/><polygon points="579.70,147.88 580.45,150.20 582.89,150.19 580.91,151.62 581.67,153.94 579.70,152.50 577.73,153.94 578.49,151.62 576.51,150.19 578.95,150.20" fill="#231f20"/><path d="M487.6,151.0 H571.3 V168.6 H529.7" fill="none" stroke="#404040" stroke-width="1.05" stroke-linejoin="miter"/><polygon points="565.70,156.38 566.45,158.70 568.89,158.69 566.91,160.12 567.67,162.44 565.70,161.00 563.73,162.44 564.49,160.12 562.51,158.69 564.95,158.70" fill="#231f20"/><circle cx="368.90" cy="211.16" r="28.7" fill="#fff" stroke="#454545" stroke-width="1.15"/><circle cx="368.90" cy="211.16" r="19.3" fill="#efebe6" stroke="#454545" stroke-width="1.05"/><clipPath id="c10"><circle cx="0" cy="0" r="18.9"/></clipPath><g transform="translate(368.90,211.16)"><g clip-path="url(#c10)"><g transform="translate(1.5,0)"><path d="M-12.5,22 C-13.5,12 -11.5,6 -7.5,4.2 C-5,7.2 0,7.2 2.5,4.2 C6.5,5.6 9,10 8.5,22 Z" fill="#ffffff" stroke="#3d382e" stroke-width="0.85" stroke-linejoin="round" /><path d="M-6,-2 L-6,5 C-4,7.8 0,7.8 1.5,5 L1.5,-2 Z" fill="#f7dfa2" stroke="#3d382e" stroke-width="0.5" stroke-linejoin="round" /></g></g><g transform="translate(1.8,-5.0) rotate(8) scale(0.95)"><path d="M-3,-16.5 C-9,-16.5 -12.5,-11 -12.2,-3 C-12,3 -11,8 -8,10.5 C-5,11 -2,9.5 -1,8 L6,8 C8,9.5 10.5,7.5 10.5,3 C10.5,-3 10,-8 8,-12 C5.5,-16 1,-16.5 -3,-16.5 Z" fill="#b0b1b4" stroke="#3d382e" stroke-width="0.85" stroke-linejoin="round" /><g transform="translate(0,0)"><circle cx="-8.1" cy="1.2" r="1.7" fill="#f7dfa2" stroke="#3d382e" stroke-width="0.5"/><path d="M-8.2,-3 C-8.4,3.5 -5.2,9.8 -0.3,11 C4.4,11.2 7.9,5.5 8.2,-1 C8.4,-5 7.2,-9 5,-11 L-5,-11 C-7.4,-9 -8.2,-5 -8.2,-3 Z" fill="#f7dfa2" stroke="#3d382e" stroke-width="0.85" stroke-linejoin="round" /><path d="M-8.8,-1 C-9.6,-9 -5,-14.5 0,-14.5 C5,-14.5 9,-9 8.6,-2 C7.4,-6.6 5,-9.8 1,-10 C-3,-10.2 -6,-7.5 -8.8,-1 Z" fill="#b0b1b4"/><path d="M-8.8,-1 C-6,-7.5 -3,-10.2 1,-10 C5,-9.8 7.4,-6.6 8.6,-2" fill="none" stroke="#3d382e" stroke-width="0.5"/><path d="M-4.6,-3.2 L-1.4,-2.2 L-4.4,-1.6 M5,-3.2 L1.8,-2.2 L4.8,-1.6" fill="none" stroke="#3d382e" stroke-width="0.55"/><path d="M1,0.2 q1.2,1.6 -0.2,2.2" fill="none" stroke="#3d382e" stroke-width="0.4"/><ellipse cx="0.8" cy="5.6" rx="1.5" ry="1.0" fill="#7a3d2c" stroke="#3d382e" stroke-width="0.4"/></g></g><g clip-path="url(#c10)"><g transform="translate(1.5,0)"><path d="M-11.5,10 L-12,19 L-9.5,19 L-9.5,11 Z" fill="#f7dfa2" stroke="#3d382e" stroke-width="0.5" stroke-linejoin="round" /><path d="M6,-4 C8,-6 10.5,-4 10.2,-1 L13.5,7.5 L11,10.5 L8,5 C6,3 5,-1 6,-4 Z" fill="#f7dfa2" stroke="#3d382e" stroke-width="0.5" stroke-linejoin="round" /></g></g></g><text class="b" transform="translate(337.0,211.6) rotate(-90)" text-anchor="middle" font-size="8.0" font-weight="bold" fill="#231f20">Sadness</text><rect x="430.5" y="186.4" width="3.3" height="15" fill="#c0703a"/><rect x="435.5" y="186.4" width="7.0" height="15" fill="#c0703a"/><text class="b" x="444.1" y="197.4" font-size="10.8" font-weight="bold" fill="#231f20">1<tspan font-size="9.35" dx="3.3">(20.00%)</tspan></text><rect x="430.5" y="203.9" width="3.3" height="15" fill="#3fa84d"/><rect x="435.5" y="203.9" width="13.1" height="15" fill="#3fa84d"/><text class="b" x="450.2" y="214.9" font-size="10.8" font-weight="bold" fill="#231f20">2<tspan font-size="9.35" dx="3.3">(40.00%)</tspan></text><rect x="430.5" y="221.4" width="3.3" height="15" fill="#8497ab"/><rect x="435.5" y="221.4" width="13.1" height="15" fill="#8497ab"/><text class="b" x="450.2" y="232.4" font-size="10.8" font-weight="bold" fill="#231f20">2<tspan font-size="9.35" dx="3.3">(40.00%)</tspan></text><circle cx="368.90" cy="272.09" r="28.7" fill="#fff" stroke="#454545" stroke-width="1.15"/><circle cx="368.90" cy="272.09" r="19.3" fill="#efebe6" stroke="#454545" stroke-width="1.05"/><clipPath id="c11"><circle cx="0" cy="0" r="18.9"/></clipPath><g transform="translate(368.90,272.09)"><g clip-path="url(#c11)"><g transform="translate(0,0)"><path d="M-12.5,22 C-13.5,12 -11.5,6 -7.5,4.2 C-5,7.2 0,7.2 2.5,4.2 C6.5,5.6 9,10 8.5,22 Z" fill="#ffffff" stroke="#3d382e" stroke-width="0.85" stroke-linejoin="round" /><path d="M-6,-2 L-6,5 C-4,7.8 0,7.8 1.5,5 L1.5,-2 Z" fill="#f7dfa2" stroke="#3d382e" stroke-width="0.5" stroke-linejoin="round" /></g><g transform="translate(0,0)"><path d="M-9.5,19 L-8,10 C-9,7.5 -6,5.5 -4.2,7 C-3,8.5 -3.8,10.4 -5,11.4 L-5.8,19.5 Z" fill="#f7dfa2" stroke="#3d382e" stroke-width="0.5" stroke-linejoin="round" /><path d="M4,8.5 C5,5.5 9.5,4.5 11.5,7.5 C12.5,10 11.5,13 8.5,13.5 C5.5,13.5 3.4,11.5 4,8.5 Z" fill="#f7dfa2" stroke="#3d382e" stroke-width="0.5" stroke-linejoin="round" /></g></g><g transform="translate(-5.0,-8.2) rotate(-5) scale(0.95)"><path d="M-3,-16.5 C-9,-16.5 -12.5,-11 -12.2,-3 C-12,3 -11,8 -8,10.5 C-5,11 -2,9.5 -1,8 L6,8 C8,9.5 10.5,7.5 10.5,3 C10.5,-3 10,-8 8,-12 C5.5,-16 1,-16.5 -3,-16.5 Z" fill="#b0b1b4" stroke="#3d382e" stroke-width="0.85" stroke-linejoin="round" /><g transform="translate(0,0)"><circle cx="-8.1" cy="1.2" r="1.7" fill="#f7dfa2" stroke="#3d382e" stroke-width="0.5"/><path d="M-8.2,-3 C-8.4,3.5 -5.2,9.8 -0.3,11 C4.4,11.2 7.9,5.5 8.2,-1 C8.4,-5 7.2,-9 5,-11 L-5,-11 C-7.4,-9 -8.2,-5 -8.2,-3 Z" fill="#f7dfa2" stroke="#3d382e" stroke-width="0.85" stroke-linejoin="round" /><path d="M-8.8,-1 C-9.6,-9 -5,-14.5 0,-14.5 C5,-14.5 9,-9 8.6,-2 C7.4,-6.6 5,-9.8 1,-10 C-3,-10.2 -6,-7.5 -8.8,-1 Z" fill="#b0b1b4"/><path d="M-8.8,-1 C-6,-7.5 -3,-10.2 1,-10 C5,-9.8 7.4,-6.6 8.6,-2" fill="none" stroke="#3d382e" stroke-width="0.5"/><ellipse cx="-2.8" cy="-2.6" rx="1.7" ry="1.8" fill="#fff" stroke="#3d382e" stroke-width="0.4"/><circle cx="-2.5999999999999996" cy="-2.4" r="1.15" fill="#1f2638"/><ellipse cx="3.2" cy="-2.6" rx="1.7" ry="1.8" fill="#fff" stroke="#3d382e" stroke-width="0.4"/><circle cx="3.4000000000000004" cy="-2.4" r="1.15" fill="#1f2638"/><path d="M-4.6,-5.6 Q-2.8,-6.8 -1.2,-5.6 M1.6,-5.6 Q3.4,-6.8 5,-5.6" fill="none" stroke="#3d382e" stroke-width="0.5"/><path d="M1,0.2 q1.2,1.6 -0.2,2.2" fill="none" stroke="#3d382e" stroke-width="0.4"/><ellipse cx="0.8" cy="5.8" rx="1.7" ry="2.2" fill="#3a1d1a" stroke="#3d382e" stroke-width="0.4"/></g></g></g><text class="b" transform="translate(337.0,272.5) rotate(-90)" text-anchor="middle" font-size="8.3" font-weight="bold" fill="#231f20">Fear</text><rect x="430.5" y="247.3" width="3.3" height="15" fill="#c0703a"/><text class="b" x="437.0" y="258.3" font-size="10.8" font-weight="bold" fill="#231f20">0<tspan font-size="9.35" dx="3.3">(00.00%)</tspan></text><rect x="430.5" y="264.8" width="3.3" height="15" fill="#3fa84d"/><rect x="435.5" y="264.8" width="13.1" height="15" fill="#3fa84d"/><text class="b" x="450.2" y="275.8" font-size="10.8" font-weight="bold" fill="#231f20">2<tspan font-size="9.35" dx="3.3">(50.00%)</tspan></text><rect x="430.5" y="282.3" width="3.3" height="15" fill="#8497ab"/><rect x="435.5" y="282.3" width="13.1" height="15" fill="#8497ab"/><text class="b" x="450.2" y="293.3" font-size="10.8" font-weight="bold" fill="#231f20">2<tspan font-size="9.35" dx="3.3">(50.00%)</tspan></text><circle cx="368.90" cy="333.02" r="28.7" fill="#fff" stroke="#454545" stroke-width="1.15"/><circle cx="368.90" cy="333.02" r="19.3" fill="#efebe6" stroke="#454545" stroke-width="1.05"/><clipPath id="c12"><circle cx="0" cy="0" r="18.9"/></clipPath><g transform="translate(368.90,333.02)"><g clip-path="url(#c12)"><g transform="translate(2,0)"><path d="M-12.5,22 C-13.5,12 -11.5,6 -7.5,4.2 C-5,7.2 0,7.2 2.5,4.2 C6.5,5.6 9,10 8.5,22 Z" fill="#ffffff" stroke="#3d382e" stroke-width="0.85" stroke-linejoin="round" /><path d="M-6,-2 L-6,5 C-4,7.8 0,7.8 1.5,5 L1.5,-2 Z" fill="#f7dfa2" stroke="#3d382e" stroke-width="0.5" stroke-linejoin="round" /></g><g transform="translate(2,0)"><path d="M-11.5,10 L-8,19.5 L-5,19.5 L-9.5,10.5 Z" fill="#f7dfa2" stroke="#3d382e" stroke-width="0.5" stroke-linejoin="round" /><path d="M6,9 L3,19.5 L0,19.5 L4,9.5 Z" fill="#f7dfa2" stroke="#3d382e" stroke-width="0.5" stroke-linejoin="round" /></g></g><g transform="translate(1.6,-4.6) rotate(6) scale(0.95)"><path d="M-3,-16.5 C-9,-16.5 -12.5,-11 -12.2,-3 C-12,3 -11,8 -8,10.5 C-5,11 -2,9.5 -1,8 L6,8 C8,9.5 10.5,7.5 10.5,3 C10.5,-3 10,-8 8,-12 C5.5,-16 1,-16.5 -3,-16.5 Z" fill="#b0b1b4" stroke="#3d382e" stroke-width="0.85" stroke-linejoin="round" /><g transform="translate(0,0)"><circle cx="-8.1" cy="1.2" r="1.7" fill="#f7dfa2" stroke="#3d382e" stroke-width="0.5"/><path d="M-8.2,-3 C-8.4,3.5 -5.2,9.8 -0.3,11 C4.4,11.2 7.9,5.5 8.2,-1 C8.4,-5 7.2,-9 5,-11 L-5,-11 C-7.4,-9 -8.2,-5 -8.2,-3 Z" fill="#f7dfa2" stroke="#3d382e" stroke-width="0.85" stroke-linejoin="round" /><path d="M-8.8,-1 C-9.6,-9 -5,-14.5 0,-14.5 C5,-14.5 9,-9 8.6,-2 C7.4,-6.6 5,-9.8 1,-10 C-3,-10.2 -6,-7.5 -8.8,-1 Z" fill="#b0b1b4"/><path d="M-8.8,-1 C-6,-7.5 -3,-10.2 1,-10 C5,-9.8 7.4,-6.6 8.6,-2" fill="none" stroke="#3d382e" stroke-width="0.5"/><path d="M-4.4,-2.4 h3.2" stroke="#3d382e" stroke-width="0.9"/><path d="M-4.4,-1.7 q1.6,1.2 3.2,0" fill="none" stroke="#3d382e" stroke-width="0.35"/><path d="M1.6,-2.4 h3.2" stroke="#3d382e" stroke-width="0.9"/><path d="M1.6,-1.7 q1.6,1.2 3.2,0" fill="none" stroke="#3d382e" stroke-width="0.35"/><path d="M-4.6,-4.6 L-1.2,-4.2 M1.6,-4.2 L5,-4.6" fill="none" stroke="#3d382e" stroke-width="0.5"/><path d="M1,0.2 q1.2,1.6 -0.2,2.2" fill="none" stroke="#3d382e" stroke-width="0.4"/><path d="M-1.2,5.6 Q0.8,5 2.6,5.6" fill="none" stroke="#7a3d2c" stroke-width="0.8"/><ellipse cx="-3.4" cy="2.4" rx="1.8" ry="1.3" fill="#e8a08a" opacity="0.7"/></g></g></g><text class="b" transform="translate(337.0,333.4) rotate(-90)" text-anchor="middle" font-size="7.9" font-weight="bold" fill="#231f20">Shame</text><rect x="430.5" y="308.2" width="3.3" height="15" fill="#c0703a"/><text class="b" x="437.0" y="319.2" font-size="10.8" font-weight="bold" fill="#231f20">0<tspan font-size="9.35" dx="3.3">(00.00%)</tspan></text><rect x="430.5" y="325.7" width="3.3" height="15" fill="#3fa84d"/><text class="b" x="437.0" y="336.7" font-size="10.8" font-weight="bold" fill="#231f20">0<tspan font-size="9.35" dx="3.3">(00.00%)</tspan></text><rect x="430.5" y="343.2" width="3.3" height="15" fill="#8497ab"/><rect x="435.5" y="343.2" width="67.3" height="15" fill="#8497ab"/><text class="b" x="504.4" y="354.2" font-size="10.8" font-weight="bold" fill="#231f20">11<tspan font-size="9.35" dx="3.3">(100.00%)</tspan></text><path d="M487.6,315.7 H585.6 V350.7 H564.7" fill="none" stroke="#404040" stroke-width="1.05" stroke-linejoin="miter"/><polygon points="570.60,323.27 571.35,325.59 573.79,325.58 571.81,327.01 572.57,329.33 570.60,327.89 568.63,329.33 569.39,327.01 567.41,325.58 569.85,325.59" fill="#231f20"/><polygon points="579.80,323.27 580.55,325.59 582.99,325.58 581.01,327.01 581.77,329.33 579.80,327.89 577.83,329.33 578.59,327.01 576.61,325.58 579.05,325.59" fill="#231f20"/><path d="M487.6,333.2 H571.7 V350.7 H564.7" fill="none" stroke="#404040" stroke-width="1.05" stroke-linejoin="miter"/><polygon points="555.80,338.27 556.55,340.59 558.99,340.58 557.01,342.01 557.77,344.33 555.80,342.89 553.83,344.33 554.59,342.01 552.61,340.58 555.05,340.59" fill="#231f20"/><polygon points="565.00,338.27 565.75,340.59 568.19,340.58 566.21,342.01 566.97,344.33 565.00,342.89 563.03,344.33 563.79,342.01 561.81,340.58 564.25,340.59" fill="#231f20"/><circle cx="368.90" cy="393.95" r="28.7" fill="#fff" stroke="#454545" stroke-width="1.15"/><circle cx="368.90" cy="393.95" r="19.3" fill="#efebe6" stroke="#454545" stroke-width="1.05"/><clipPath id="c13"><circle cx="0" cy="0" r="18.9"/></clipPath><g transform="translate(368.90,393.95)"><g clip-path="url(#c13)"><g transform="translate(1.5,0)"><path d="M-12.5,22 C-13.5,12 -11.5,6 -7.5,4.2 C-5,7.2 0,7.2 2.5,4.2 C6.5,5.6 9,10 8.5,22 Z" fill="#ffffff" stroke="#3d382e" stroke-width="0.85" stroke-linejoin="round" /><path d="M-6,-2 L-6,5 C-4,7.8 0,7.8 1.5,5 L1.5,-2 Z" fill="#f7dfa2" stroke="#3d382e" stroke-width="0.5" stroke-linejoin="round" /></g></g><g transform="translate(1.4,-4.6) rotate(10) scale(0.95)"><path d="M-3,-16.5 C-9,-16.5 -12.5,-11 -12.2,-3 C-12,3 -11,8 -8,10.5 C-5,11 -2,9.5 -1,8 L6,8 C8,9.5 10.5,7.5 10.5,3 C10.5,-3 10,-8 8,-12 C5.5,-16 1,-16.5 -3,-16.5 Z" fill="#b0b1b4" stroke="#3d382e" stroke-width="0.85" stroke-linejoin="round" /><g transform="translate(1.5,0)"><circle cx="-8.1" cy="1.2" r="1.7" fill="#f7dfa2" stroke="#3d382e" stroke-width="0.5"/><path d="M-8.2,-3 C-8.4,3.5 -5.2,9.8 -0.3,11 C4.4,11.2 7.9,5.5 8.2,-1 C8.4,-5 7.2,-9 5,-11 L-5,-11 C-7.4,-9 -8.2,-5 -8.2,-3 Z" fill="#f7dfa2" stroke="#3d382e" stroke-width="0.85" stroke-linejoin="round" /><path d="M-8.8,-1 C-9.6,-9 -5,-14.5 0,-14.5 C5,-14.5 9,-9 8.6,-2 C7.4,-6.6 5,-9.8 1,-10 C-3,-10.2 -6,-7.5 -8.8,-1 Z" fill="#b0b1b4"/><path d="M-8.8,-1 C-6,-7.5 -3,-10.2 1,-10 C5,-9.8 7.4,-6.6 8.6,-2" fill="none" stroke="#3d382e" stroke-width="0.5"/><path d="M-4.4,-2.4 h3.2" stroke="#3d382e" stroke-width="0.9"/><path d="M-4.4,-1.7 q1.6,1.2 3.2,0" fill="none" stroke="#3d382e" stroke-width="0.35"/><path d="M1.6,-2.4 h3.2" stroke="#3d382e" stroke-width="0.9"/><path d="M1.6,-1.7 q1.6,1.2 3.2,0" fill="none" stroke="#3d382e" stroke-width="0.35"/><path d="M-4.6,-4.6 L-1.2,-4.2 M1.6,-4.2 L5,-4.6" fill="none" stroke="#3d382e" stroke-width="0.5"/><path d="M1,0.2 q1.2,1.6 -0.2,2.2" fill="none" stroke="#3d382e" stroke-width="0.4"/><ellipse cx="0.8" cy="5.8" rx="1.7" ry="2.2" fill="#3a1d1a" stroke="#3d382e" stroke-width="0.4"/></g></g><g clip-path="url(#c13)"><g transform="translate(1.5,0)"><path d="M-11.5,10 L-12,19 L-9.5,19 L-9.5,11 Z" fill="#f7dfa2" stroke="#3d382e" stroke-width="0.5" stroke-linejoin="round" /><path d="M7.5,-3 C9.5,-4 11,-2 10.6,0.5 L11.5,12 L8.5,14.5 L7.5,6 C6.6,3 6.4,-1 7.5,-3 Z" fill="#f7dfa2" stroke="#3d382e" stroke-width="0.5" stroke-linejoin="round" /></g></g></g><text class="b" transform="translate(337.0,394.3) rotate(-90)" text-anchor="middle" font-size="8.1" font-weight="bold" fill="#231f20">Borebom</text><rect x="430.5" y="369.1" width="3.3" height="15" fill="#c0703a"/><text class="b" x="437.0" y="380.1" font-size="10.8" font-weight="bold" fill="#231f20">0<tspan font-size="9.35" dx="3.3">(00.00%)</tspan></text><rect x="430.5" y="386.6" width="3.3" height="15" fill="#3fa84d"/><rect x="435.5" y="386.6" width="7.0" height="15" fill="#3fa84d"/><text class="b" x="444.1" y="397.6" font-size="10.8" font-weight="bold" fill="#231f20">1<tspan font-size="9.35" dx="3.3">(50.00%)</tspan></text><rect x="430.5" y="404.1" width="3.3" height="15" fill="#8497ab"/><rect x="435.5" y="404.1" width="7.0" height="15" fill="#8497ab"/><text class="b" x="444.1" y="415.1" font-size="10.8" font-weight="bold" fill="#231f20">1<tspan font-size="9.35" dx="3.3">(50.00%)</tspan></text><circle cx="368.90" cy="454.88" r="28.7" fill="#fff" stroke="#454545" stroke-width="1.15"/><circle cx="368.90" cy="454.88" r="19.3" fill="#efebe6" stroke="#454545" stroke-width="1.05"/><clipPath id="c14"><circle cx="0" cy="0" r="18.9"/></clipPath><g transform="translate(368.90,454.88)"><g clip-path="url(#c14)"><g transform="translate(0,0)"><path d="M-12.5,22 C-13.5,12 -11.5,6 -7.5,4.2 C-5,7.2 0,7.2 2.5,4.2 C6.5,5.6 9,10 8.5,22 Z" fill="#ffffff" stroke="#3d382e" stroke-width="0.85" stroke-linejoin="round" /><path d="M-6,-2 L-6,5 C-4,7.8 0,7.8 1.5,5 L1.5,-2 Z" fill="#f7dfa2" stroke="#3d382e" stroke-width="0.5" stroke-linejoin="round" /></g><g transform="translate(0,0)"><path d="M-13,11 C-9,9.5 -2,12 7.5,9.5 C9,10.5 9,13 7.5,14 C0,16 -8,16 -12.5,14.5 C-14,13.5 -14,12 -13,11 Z" fill="#f7dfa2" stroke="#3d382e" stroke-width="0.5" stroke-linejoin="round" /><path d="M-12,13.5 L2,9.2 L3.4,11.4 L-10.5,16 Z" fill="#f7dfa2" stroke="#3d382e" stroke-width="0.5" stroke-linejoin="round" /></g></g><g transform="translate(-2.6,-6.8) rotate(-4) scale(-1,1) scale(0.95)"><path d="M-3,-16.5 C-9,-16.5 -12.5,-11 -12.2,-3 C-12,3 -11,8 -8,10.5 C-5,11 -2,9.5 -1,8 L6,8 C8,9.5 10.5,7.5 10.5,3 C10.5,-3 10,-8 8,-12 C5.5,-16 1,-16.5 -3,-16.5 Z" fill="#b0b1b4" stroke="#3d382e" stroke-width="0.85" stroke-linejoin="round" /><g transform="translate(2.6,0)"><circle cx="-8.1" cy="1.2" r="1.7" fill="#f7dfa2" stroke="#3d382e" stroke-width="0.5"/><path d="M-8.2,-3 C-8.4,3.5 -5.2,9.8 -0.3,11 C4.4,11.2 7.9,5.5 8.2,-1 C8.4,-5 7.2,-9 5,-11 L-5,-11 C-7.4,-9 -8.2,-5 -8.2,-3 Z" fill="#f7dfa2" stroke="#3d382e" stroke-width="0.85" stroke-linejoin="round" /><path d="M-8.8,-1 C-9.6,-9 -5,-14.5 0,-14.5 C5,-14.5 9,-9 8.6,-2 C7.4,-6.6 5,-9.8 1,-10 C-3,-10.2 -6,-7.5 -8.8,-1 Z" fill="#b0b1b4"/><path d="M-8.8,-1 C-6,-7.5 -3,-10.2 1,-10 C5,-9.8 7.4,-6.6 8.6,-2" fill="none" stroke="#3d382e" stroke-width="0.5"/><path d="M-4.6,-2.6 Q-2.8,-4 -1.2,-2.6 M1.6,-2.6 Q3.4,-4 5,-2.6" fill="none" stroke="#3d382e" stroke-width="0.6"/><path d="M-4.6,-5.4 Q-2.8,-6.6 -1.2,-5.4 M1.6,-5.4 Q3.4,-6.6 5,-5.4" fill="none" stroke="#3d382e" stroke-width="0.45"/><path d="M1,0.2 q1.2,1.6 -0.2,2.2" fill="none" stroke="#3d382e" stroke-width="0.4"/><ellipse cx="0.8" cy="5.6" rx="1.5" ry="1.0" fill="#7a3d2c" stroke="#3d382e" stroke-width="0.4"/></g></g></g><text class="b" transform="translate(337.0,455.3) rotate(-90)" text-anchor="middle" font-size="8.2" font-weight="bold" fill="#231f20">Contempt</text><rect x="430.5" y="430.1" width="3.3" height="15" fill="#c0703a"/><text class="b" x="437.0" y="441.1" font-size="10.8" font-weight="bold" fill="#231f20">0<tspan font-size="9.35" dx="3.3">(00.00%)</tspan></text><rect x="430.5" y="447.6" width="3.3" height="15" fill="#3fa84d"/><rect x="435.5" y="447.6" width="7.0" height="15" fill="#3fa84d"/><text class="b" x="444.1" y="458.6" font-size="10.8" font-weight="bold" fill="#231f20">1<tspan font-size="9.35" dx="3.3">(10.00%)</tspan></text><rect x="430.5" y="465.1" width="3.3" height="15" fill="#8497ab"/><rect x="435.5" y="465.1" width="55.3" height="15" fill="#8497ab"/><text class="b" x="492.4" y="476.1" font-size="10.8" font-weight="bold" fill="#231f20">9<tspan font-size="9.35" dx="3.3">(90.00%)</tspan></text><path d="M487.6,437.1 H585.6 V472.4 H542.2" fill="none" stroke="#404040" stroke-width="1.05" stroke-linejoin="miter"/><polygon points="579.30,452.13 580.05,454.45 582.49,454.44 580.51,455.87 581.27,458.19 579.30,456.75 577.33,458.19 578.09,455.87 576.11,454.44 578.55,454.45" fill="#231f20"/><rect x="401.2" y="64.5" width="29.1" height="50" fill="#e6e7e8"/><polygon points="415.90,86.20 416.66,88.55 419.13,88.55 417.13,90.00 417.90,92.35 415.90,90.89 413.90,92.35 414.67,90.00 412.67,88.55 415.14,88.55" fill="#231f20"/><rect x="401.2" y="125.4" width="29.1" height="50" fill="#e6e7e8"/><polygon points="411.70,147.13 412.46,149.48 414.93,149.48 412.93,150.93 413.70,153.28 411.70,151.82 409.70,153.28 410.47,150.93 408.47,149.48 410.94,149.48" fill="#231f20"/><polygon points="420.10,147.13 420.86,149.48 423.33,149.48 421.33,150.93 422.10,153.28 420.10,151.82 418.10,153.28 418.87,150.93 416.87,149.48 419.34,149.48" fill="#231f20"/><rect x="401.2" y="308.2" width="29.1" height="50" fill="#e6e7e8"/><polygon points="407.50,329.92 408.26,332.27 410.73,332.27 408.73,333.72 409.50,336.07 407.50,334.61 405.50,336.07 406.27,333.72 404.27,332.27 406.74,332.27" fill="#231f20"/><polygon points="415.90,329.92 416.66,332.27 419.13,332.27 417.13,333.72 417.90,336.07 415.90,334.61 413.90,336.07 414.67,333.72 412.67,332.27 415.14,332.27" fill="#231f20"/><polygon points="424.30,329.92 425.06,332.27 427.53,332.27 425.53,333.72 426.30,336.07 424.30,334.61 422.30,336.07 423.07,333.72 421.07,332.27 423.54,332.27" fill="#231f20"/><rect x="401.2" y="430.1" width="29.1" height="50" fill="#e6e7e8"/><polygon points="411.70,451.78 412.46,454.13 414.93,454.13 412.93,455.58 413.70,457.93 411.70,456.47 409.70,457.93 410.47,455.58 408.47,454.13 410.94,454.13" fill="#231f20"/><polygon points="420.10,451.78 420.86,454.13 423.33,454.13 421.33,455.58 422.10,457.93 420.10,456.47 418.10,457.93 418.87,455.58 416.87,454.13 419.34,454.13" fill="#231f20"/><rect x="285.1" y="492.0" width="48" height="11.7" fill="#c0703a"/><text x="309.3" y="500.2" font-size="6.7" font-weight="bold" text-anchor="middle" fill="#2e2a28">TERRACOTTA</text><rect x="285.1" y="506.0" width="48" height="11.7" fill="#3fa84d"/><text x="309.3" y="514.1" font-size="6.7" font-weight="bold" text-anchor="middle" fill="#2e2a28">GREEN</text><rect x="285.1" y="520.0" width="48" height="11.7" fill="#8497ab"/><text x="309.3" y="527.9" font-size="6.7" font-weight="bold" text-anchor="middle" fill="#2e2a28">GREY</text><rect x="349.2" y="491.6" width="113.2" height="40.1" fill="#e6e7e8"/><path d="M475.2,491.9 H585.6 V531.5 H475.2" fill="none" stroke="#404040" stroke-width="1.05" stroke-linejoin="miter"/><text x="354.6" y="513.8" font-size="6.7" font-weight="bold" font-style="italic" fill="#231f20">Cochran's Q test</text><text x="480.6" y="513.8" font-size="6.6" font-weight="bold" font-style="italic" fill="#231f20">McNemar's test</text><polygon points="429.10,498.15 429.71,500.05 431.72,500.05 430.09,501.22 430.72,503.12 429.10,501.95 427.48,503.12 428.11,501.22 426.48,500.05 428.49,500.05" fill="#231f20"/><text x="434.5" y="502.7" font-size="6.7" fill="#2b2728" stroke="#2b2728" stroke-width="0.22">p≤0.05</text><polygon points="429.10,509.25 429.71,511.15 431.72,511.15 430.09,512.32 430.72,514.22 429.10,513.04 427.48,514.22 428.11,512.32 426.48,511.15 428.49,511.15" fill="#231f20"/><polygon points="423.20,509.25 423.81,511.15 425.82,511.15 424.19,512.32 424.82,514.22 423.20,513.04 421.58,514.22 422.21,512.32 420.58,511.15 422.59,511.15" fill="#231f20"/><text x="434.5" y="513.8" font-size="6.7" fill="#2b2728" stroke="#2b2728" stroke-width="0.22">p≤0.01</text><polygon points="429.10,520.45 429.71,522.35 431.72,522.35 430.09,523.52 430.72,525.42 429.10,524.25 427.48,525.42 428.11,523.52 426.48,522.35 428.49,522.35" fill="#231f20"/><polygon points="423.20,520.45 423.81,522.35 425.82,522.35 424.19,523.52 424.82,525.42 423.20,524.25 421.58,525.42 422.21,523.52 420.58,522.35 422.59,522.35" fill="#231f20"/><polygon points="417.30,520.45 417.91,522.35 419.92,522.35 418.29,523.52 418.92,525.42 417.30,524.25 415.68,525.42 416.31,523.52 414.68,522.35 416.69,522.35" fill="#231f20"/><text x="434.5" y="525.0" font-size="6.7" fill="#2b2728" stroke="#2b2728" stroke-width="0.22">p≤0.001</text><polygon points="553.60,502.05 554.21,503.95 556.22,503.95 554.59,505.12 555.22,507.02 553.60,505.85 551.98,507.02 552.61,505.12 550.98,503.95 552.99,503.95" fill="#231f20"/><text x="559.5" y="506.6" font-size="6.7" fill="#2b2728" stroke="#2b2728" stroke-width="0.22">p≤0.05</text><polygon points="553.60,516.05 554.21,517.95 556.22,517.95 554.59,519.12 555.22,521.02 553.60,519.85 551.98,521.02 552.61,519.12 550.98,517.95 552.99,517.95" fill="#231f20"/><polygon points="547.70,516.05 548.31,517.95 550.32,517.95 548.69,519.12 549.32,521.02 547.70,519.85 546.08,521.02 546.71,519.12 545.08,517.95 547.09,517.95" fill="#231f20"/><text x="559.5" y="520.6" font-size="6.7" fill="#2b2728" stroke="#2b2728" stroke-width="0.22">p≤0.01</text></svg></body></html>
